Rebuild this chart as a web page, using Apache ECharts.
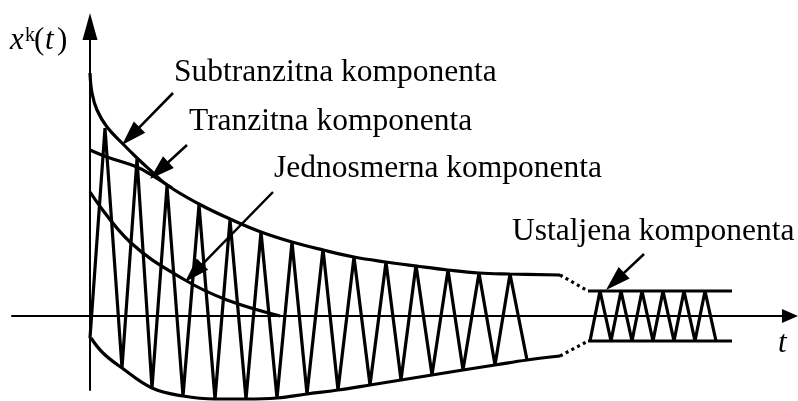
<!DOCTYPE html>
<html>
<head>
<meta charset="utf-8">
<script src="https://cdn.jsdelivr.net/npm/echarts@6/dist/echarts.min.js"></script>
<style>
  html, body { margin: 0; padding: 0; background: #fff; }
  #chart { width: 798px; height: 401px; }
</style>
</head>
<body>
<div id="chart"></div>
<script>
// Short-circuit current x^k(t) and its components.
// t runs from the fault instant, values are in one arbitrary unit on both axes.
const subtransientEnvelope = [[0,243],[2,223],[7,206],[17,189],[33,172],[47,158],[60,146],[77,131],[109,112],[140,97],[171,84],[202,74],[233,66],[264,59],[296,54],[326,50],[358,46],[389,43],[420,42],[470,41]];
const transientEnvelope = [[0,166],[17,159],[47,149],[63,140],[82,128]];
const dcComponent = [[0,124],[40,74],[95,36],[137,16],[190,0]];
const lowerEnvelope = [[1,-22],[13,-37],[32,-52],[62,-72],[93,-80],[125,-83],[156,-83],[187,-82],[217,-78],[248,-74],[280,-69],[311,-64],[342,-59],[373,-54],[405,-49],[437,-44],[470,-40]];
const faultCurrent = [[0,-22],[15,188],[32,-52],[47,157],[62,-72],[77,130],[93,-80],[109,111],[125,-83],[140,96],[156,-83],[171,84],[187,-82],[202,74],[217,-78],[233,67],[248,-74],[264,59],[280,-69],[296,54],[311,-64],[326,51],[342,-59],[358,46],[373,-54],[389,43],[405,-49],[420,42],[437,-44]];
const gapUpper = [[470,41],[498,25]];
const gapLower = [[470,-40],[498,-25]];
const steadyUpper = [[498,25],[642,25]];
const steadyLower = [[498,-25],[642,-25]];
const steadyCurrent = [[500,-25],[510,25],[521,-25],[531,25],[542,-25],[552,25],[563,-25],[573,25],[584,-25],[594,25],[605,-25],[615,25],[626,-25]];

// Component names and the pointer lines leading from each name to its curve
const componentNames = ['Subtranzitna komponenta', 'Tranzitna komponenta', 'Jednosmerna komponenta', 'Ustaljena komponenta'];
const pointerFrom = [[83,223],[97,171],[183,124],[554,62]];
const pointerTo = [[32,171],[60,137],[95,34],[516,26]];

const INK = '#000';
const SERIF = '"Liberation Serif", "Times New Roman", serif';
const STROKE = 3.2;

const chart = echarts.init(document.getElementById('chart'), null, { renderer: 'canvas' });

function curve(name, data, extra) {
  return Object.assign({
    name: name,
    type: 'line',
    data: data,
    symbol: 'none',
    showSymbol: false,
    clip: false,
    silent: true,
    animation: false,
    lineStyle: { color: INK, width: STROKE },
    emphasis: { disabled: true }
  }, extra || {});
}

function axisStyle(min, max, size, offset) {
  return {
    type: 'value',
    min: min,
    max: max,
    axisLine: {
      show: true,
      onZero: true,
      symbol: ['none', 'triangle'],
      symbolSize: size,
      symbolOffset: [0, offset],
      lineStyle: { color: INK, width: 2 }
    },
    axisTick: { show: false },
    axisLabel: { show: false },
    splitLine: { show: false }
  };
}

// Labels placed by baseline: shift from baseline to the text's middle line
function label(text, x, baseline, size, style) {
  return {
    type: 'text',
    silent: true,
    style: {
      text: text,
      x: x,
      y: baseline - 0.34 * size,
      font: (style || 'normal') + ' ' + size + 'px ' + SERIF,
      fill: INK,
      align: 'left',
      verticalAlign: 'middle'
    }
  };
}

const NAME_SIZE = 31.5;
const SMOOTH = 0.4;
const option = {
  animation: false,
  grid: { left: 12, right: 16, top: 40, bottom: 11 },
  xAxis: axisStyle(-78, 692, [14, 16], 8),
  yAxis: axisStyle(-74, 276, [15, 27], 13.5),
  series: [
    curve('Subtranzitna', subtransientEnvelope, { smooth: SMOOTH }),
    curve('Tranzitna', transientEnvelope, { smooth: SMOOTH }),
    curve('Jednosmerna', dcComponent, { id: 'dc', smooth: SMOOTH }),
    curve('Donja anvelopa', lowerEnvelope, { smooth: SMOOTH }),
    curve('Struja kvara', faultCurrent, { lineStyle: { color: INK, width: STROKE, join: 'bevel' } }),
    curve('Prelaz gore', gapUpper, { lineStyle: { color: INK, width: STROKE, type: [3, 3.5] } }),
    curve('Prelaz dole', gapLower, { lineStyle: { color: INK, width: STROKE, type: [3, 3.5] } }),
    curve('Ustaljena gore', steadyUpper),
    curve('Ustaljena dole', steadyLower),
    curve('Ustaljena struja', steadyCurrent, { lineStyle: { color: INK, width: STROKE, join: 'bevel' } })
  ],
  graphic: [
    label(componentNames[0], 174, 83, NAME_SIZE),
    label(componentNames[1], 189, 132, NAME_SIZE),
    label(componentNames[2], 274, 179, NAME_SIZE),
    label(componentNames[3], 512, 242, NAME_SIZE),
    label('x', 10, 51, 31, 'italic'),
    label('k', 25, 43, 20),
    label('(', 34, 51, 31),
    label('t', 45, 51, 31, 'italic'),
    label(')', 57, 51, 31),
    label('t', 778, 354, 31, 'italic')
  ]
};
chart.setOption(option);

// Pointer arrows: the triangle head is centred on the line end, so pull the
// end back by half the head length to land the tip on the curve.
const HEAD = [16, 25];
const pointerLines = pointerFrom.map(function (from, i) {
  const p0 = chart.convertToPixel({ gridIndex: 0 }, from);
  const p1 = chart.convertToPixel({ gridIndex: 0 }, pointerTo[i]);
  const dx = p1[0] - p0[0], dy = p1[1] - p0[1];
  const len = Math.hypot(dx, dy);
  const endPx = [p1[0] - dx / len * HEAD[1] / 2, p1[1] - dy / len * HEAD[1] / 2];
  const end = chart.convertFromPixel({ gridIndex: 0 }, endPx);
  return [{ coord: from }, { coord: end }];
});

chart.setOption({
  series: [{
    id: 'dc',
    markLine: {
      silent: true,
      animation: false,
      symbol: ['none', 'triangle'],
      symbolSize: HEAD,
      label: { show: false },
      emphasis: { disabled: true },
      lineStyle: { color: INK, width: 2.5, type: 'solid' },
      data: pointerLines
    }
  }]
});
</script>
</body>
</html>
